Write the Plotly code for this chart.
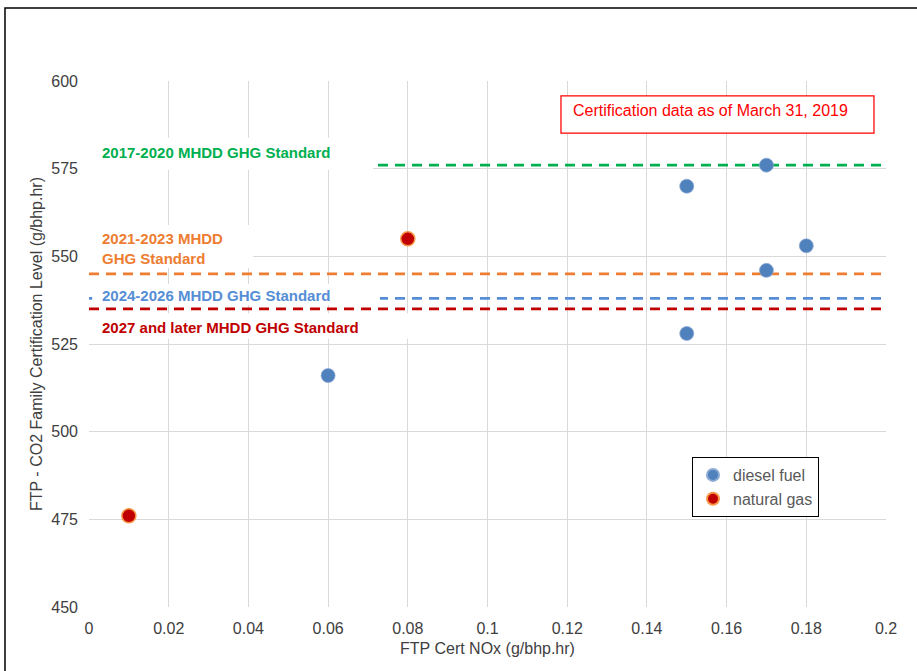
import plotly.graph_objects as go

# ---- data ----
diesel_x = [0.06, 0.15, 0.17, 0.18, 0.17, 0.15]
diesel_y = [516, 570, 576, 553, 546, 528]
ng_x = [0.01, 0.08]
ng_y = [476, 555]

std_names = ["2017-2020 MHDD GHG Standard", "2021-2023 MHDD<br>GHG Standard",
             "2024-2026 MHDD GHG Standard", "2027 and later MHDD GHG Standard"]
std_values = [576, 545, 538, 535]
std_colors = ["#00B050", "#ED7D31", "#558ED5", "#C00000"]
# label text centre (y) and white label box extents
label_y = [579.5, 552.1, 538.7, 529.6]
box_x1 = [0.0713, 0.0412, 0.0730, 0.0806]
box_x0 = [0.0, 0.0, 0.0008, 0.0]
box_y0 = [574.6, 546.7, 536.1, 526.4]
box_y1 = [583.8, 558.9, 542.1, 533.8]

x_ticks = [0, 0.02, 0.04, 0.06, 0.08, 0.1, 0.12, 0.14, 0.16, 0.18, 0.2]
x_tick_text = ["0", "0.02", "0.04", "0.06", "0.08", "0.1", "0.12", "0.14", "0.16", "0.18", "0.2"]
y_ticks = [450, 475, 500, 525, 550, 575, 600]

FONT = "Liberation Sans, Arial, sans-serif"
GRID = "#D9D9D9"
TXT = "#404040"
LEG = "#595959"

fig = go.Figure()
fig.add_trace(go.Scatter(x=diesel_x, y=diesel_y, mode="markers", name="diesel fuel",
                         marker=dict(size=14, color="#4F81BD",
                                     line=dict(width=0.75, color="#8DAAD4"))))
fig.add_trace(go.Scatter(x=ng_x, y=ng_y, mode="markers", name="natural gas",
                         marker=dict(size=14, color="#C00000",
                                     line=dict(width=1.5, color="#F79646"))))

shapes = []
for v, c in zip(std_values, std_colors):
    shapes.append(dict(type="line", xref="x", yref="y", x0=0, x1=0.2, y0=v, y1=v,
                       layer="between", line=dict(color=c, width=2.75, dash="10px,7px")))
for x0, x1, y0, y1 in zip(box_x0, box_x1, box_y0, box_y1):
    shapes.append(dict(type="rect", xref="x", yref="y", x0=x0, x1=x1, y0=y0, y1=y1,
                       layer="between", fillcolor="white", line=dict(width=0)))
# note box
shapes.append(dict(type="rect", xref="paper", yref="paper", x0=0.5922, x1=0.9849,
                   y0=0.9011, y1=0.9715, line=dict(color="#FF0000", width=1.25),
                   fillcolor="white", layer="above"))
# outer frame
shapes.append(dict(type="rect", xref="paper", yref="paper", x0=-0.1054, x1=1.0402,
                   y0=-0.1236, y1=1.1388, line=dict(color="black", width=1.5),
                   layer="above"))

annotations = []
for name, ly, c in zip(std_names, label_y, std_colors):
    annotations.append(dict(x=0.0028, y=ly, xref="x", yref="y", text="<b>" + name + "</b>",
                            showarrow=False, xanchor="left", yanchor="middle", align="left",
                            font=dict(family=FONT, size=15, color=c)))
annotations.append(dict(x=0.6048, y=0.943, xref="paper", yref="paper",
                        text="Certification data as of March 31, 2019", showarrow=False,
                        xanchor="left", yanchor="middle",
                        font=dict(family=FONT, size=16, color="#FF0000")))

fig.update_layout(
    width=917, height=671,
    margin=dict(l=89, r=31, t=81, b=64),
    paper_bgcolor="white", plot_bgcolor="white",
    font=dict(family=FONT, size=16, color=TXT),
    shapes=shapes, annotations=annotations,
    showlegend=True,
    legend=dict(x=0.7566, y=0.2852, xanchor="left", yanchor="top",
                bgcolor="white", bordercolor="black", borderwidth=1,
                font=dict(family=FONT, size=16, color=LEG),
                itemwidth=30, itemsizing="constant", tracegroupgap=6,
                traceorder="normal"),
    xaxis=dict(range=[0, 0.2], tickvals=x_ticks, ticktext=x_tick_text,
               showgrid=True, gridcolor=GRID, gridwidth=1, zeroline=False,
               showline=False, ticks="", ticklabelstandoff=10,
               tickfont=dict(family=FONT, size=16, color=TXT),
               title=dict(text="FTP Cert NOx (g/bhp.hr)", standoff=6,
                          font=dict(family=FONT, size=16, color=TXT))),
    yaxis=dict(range=[450, 600], tickvals=y_ticks,
               showgrid=True, gridcolor=GRID, gridwidth=1, zeroline=False,
               showline=False, ticks="", ticklabelstandoff=10,
               tickfont=dict(family=FONT, size=16, color=TXT),
               title=dict(text="FTP - CO2 Family Certification Level (g/bhp.hr)", standoff=4,
                          font=dict(family=FONT, size=16, color=TXT))),
)

fig.write_html("out.html")
